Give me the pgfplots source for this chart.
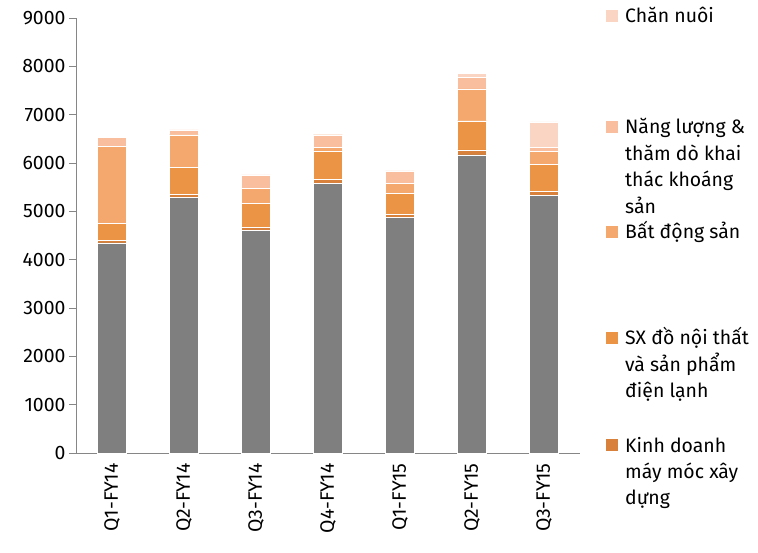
\documentclass[border=0pt]{standalone}
\usepackage{pgfplots}
\pgfplotsset{compat=1.18}
\usepackage{pgfplotstable}
\usepackage{fontspec}
\setmainfont{Fira Sans}

\definecolor{cgray}{HTML}{7F7F7F}
\definecolor{ckd}{HTML}{D7813C}
\definecolor{csx}{HTML}{EC9445}
\definecolor{cbds}{HTML}{F5A86E}
\definecolor{cnl}{HTML}{F8BE9D}
\definecolor{ccn}{HTML}{FAD5C3}
\definecolor{axisgray}{HTML}{868686}

% values (bottom to top of each bar)
\pgfplotstableread{
x  base kd  sx  bds  nl  cn
0  4350 50  350 1590 185 0
1  5290 55  560 680  100 0
2  4600 70  490 310  285 0
3  5580 85  585 80   255 0
4  4877 62  435 207  255 0
5  6170 100 605 660  230 90
6  5330 85  550 270  95  520
}\datatable

% legend entry: colour, baseline height (bp, from axis bottom), text
\newcommand{\lgd}[3]{%
  \fill[#1] (530bp,#2+1bp) rectangle (542bp,#2+13bp);
  \node[anchor=base west, inner sep=0pt] at (549bp,#2) {\parbox[t]{5cm}{#3}};}

\begin{document}
\begin{tikzpicture}[font=\fontsize{19.5}{26.5}\selectfont]
\path[use as bounding box] (-76bp,-100bp) rectangle (682bp,453bp);
\begin{axis}[
  scale only axis,
  width=504bp, height=435bp,
  at={(0,0)}, anchor=south west,
  ybar stacked, bar width=29bp,
  xmin=-0.5, xmax=6.5, ymin=0, ymax=9000,
  ytick={0,1000,...,9000},
  xtick=data,
  xticklabels={Q1-FY14,Q2-FY14,Q3-FY14,Q4-FY14,Q1-FY15,Q2-FY15,Q3-FY15},
  x tick label style={rotate=90, anchor=east},
  xtick style={draw=none},
  ytick style={draw=axisgray, line width=0.8bp},
  tick align=outside, major tick length=7bp,
  axis x line*=bottom, axis y line*=left,
  axis line style={draw=axisgray, line width=0.8bp, -},
  /pgf/number format/assume math mode=true,
  /pgf/number format/1000 sep={},
  every axis plot/.append style={draw=white, line width=0.4bp},
]
\addplot[fill=cgray] table[x=x, y=base] {\datatable};
\addplot[fill=ckd] table[x=x, y=kd] {\datatable};
\addplot[fill=csx] table[x=x, y=sx] {\datatable};
\addplot[fill=cbds] table[x=x, y=bds] {\datatable};
\addplot[fill=cnl] table[x=x, y=nl] {\datatable};
\addplot[fill=ccn] table[x=x, y=cn] {\datatable};
\end{axis}
\lgd{ccn}{430bp}{Chăn nuôi}
\lgd{cnl}{319bp}{Năng lượng \&\\thăm dò khai\\thác khoáng\\sản}
\lgd{cbds}{214bp}{Bất động sản}
\lgd{csx}{108bp}{SX đồ nội thất\\và sản phẩm\\điện lạnh}
\lgd{ckd}{1bp}{Kinh doanh\\máy móc xây\\dựng}
\end{tikzpicture}
\end{document}
